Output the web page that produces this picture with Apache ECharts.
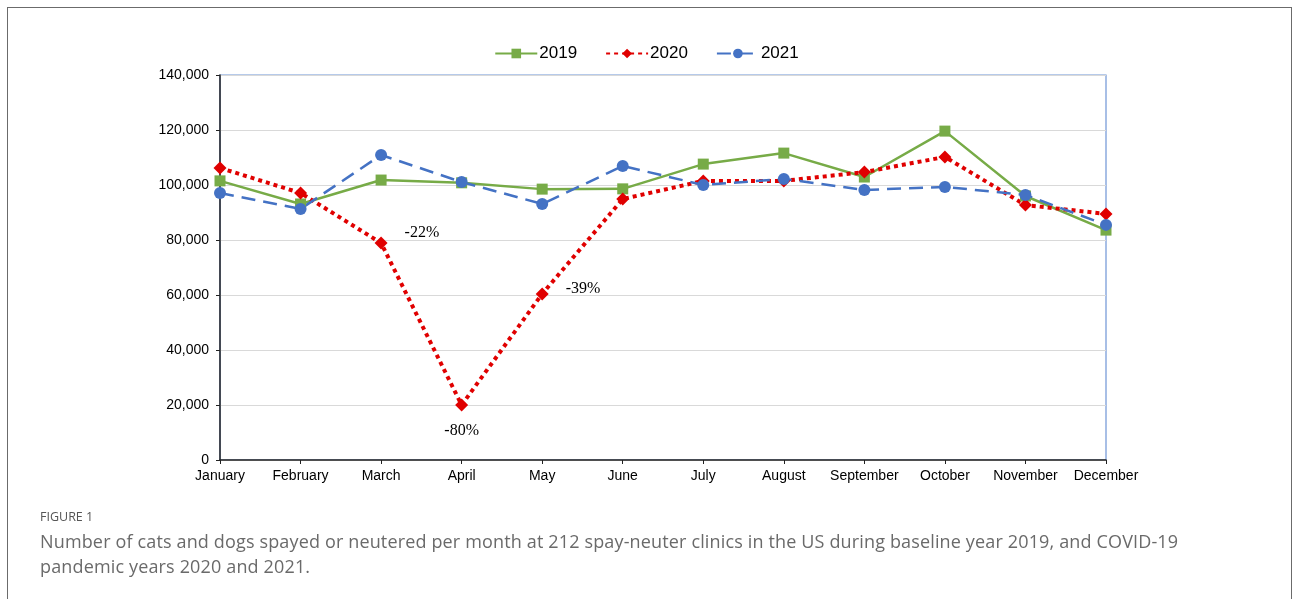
<!DOCTYPE html>
<html>
<head>
<meta charset="utf-8">
<script src="https://cdn.jsdelivr.net/npm/echarts@6/dist/echarts.min.js"></script>
<style>
    html, body { margin: 0; padding: 0; background: #fff; }
    .fig { position: relative; width: 1293px; height: 599px; overflow: hidden; }
    .frame { position: absolute; left: 7px; top: 7px; width: 1285px; height: 620px; border: 1.5px solid #6b6b6b; box-sizing: border-box; }
    #chart { position: absolute; left: 0; top: 0; width: 1293px; height: 599px; }
    .cap-label { position: absolute; left: 40px; top: 508px; font: 12.5px "Open Sans", sans-serif; color: #555; }
    .cap-text { position: absolute; left: 40px; top: 529px; font: 18px/25px "Open Sans", sans-serif; letter-spacing: 0.15px; color: #6a6a6a; }
</style>
</head>
<body>
<div class="fig">
    <div class="frame"></div>
    <div id="chart"></div>
    <div class="cap-label">FIGURE 1</div>
    <div class="cap-text">Number of cats and dogs spayed or neutered per month at 212 spay-neuter clinics in the US during baseline year 2019, and COVID-19<br>pandemic years 2020 and 2021.</div>
</div>
<script>
const months = ["January", "February", "March", "April", "May", "June", "July", "August", "September", "October", "November", "December"];
const values2019 = [101500, 93100, 101800, 100800, 98500, 98600, 107600, 111600, 102900, 119600, 96000, 83600];
const values2020 = [106200, 97100, 78900, 20000, 60400, 94900, 101500, 101500, 104700, 110200, 92700, 89500];
const values2021 = [97100, 91300, 110900, 101100, 93100, 106900, 100000, 102200, 98200, 99300, 96400, 85500];
// 2020 drop labels (percent vs 2019)
const notes2020 = ["", "", "-22%", "-80%", "-39%", "", "", "", "", "", "", ""];
const notePos = { "-22%": ["right", [12, -10]], "-80%": ["bottom", [0, 6]], "-39%": ["right", [12, -5]] };

const data2020 = values2020.map((v, i) => {
    const n = notes2020[i];
    if (!n) return v;
    return {
        value: v,
        label: {
            show: true,
            formatter: n,
            position: notePos[n][0],
            offset: notePos[n][1],
            fontFamily: "Liberation Serif",
            fontSize: 16,
            color: "#000"
        }
    };
});

const chart = echarts.init(document.getElementById("chart"), null, { renderer: "canvas" });
const axisFont = { fontFamily: "Liberation Sans", fontSize: 14, color: "#000" };

chart.setOption({
    animation: false,
    legend: {
        top: 40,
        left: "center",
        itemWidth: 42,
        itemHeight: 12,
        itemGap: 28,
        textStyle: { fontFamily: "Liberation Sans", fontSize: 17, color: "#000", padding: [0, 0, 0, -3] },
        data: ["2019", "2020", "2021"]
    },
    grid: {
        left: 220, right: 187, top: 75, bottom: 139,
        show: true,
        borderColor: "#6f95d6",
        borderWidth: 1.2
    },
    xAxis: {
        type: "category",
        data: months,
        boundaryGap: false,
        axisLine: { lineStyle: { color: "#222", width: 1.5 } },
        axisTick: { show: true, alignWithLabel: true, length: 4, lineStyle: { color: "#222" } },
        axisLabel: Object.assign({ margin: 9, interval: 0 }, axisFont),
        splitLine: { show: false }
    },
    yAxis: {
        type: "value",
        min: 0,
        max: 140000,
        interval: 20000,
        axisLine: { show: true, lineStyle: { color: "#222", width: 1.5 } },
        axisTick: { show: true, length: 4, lineStyle: { color: "#222" } },
        axisLabel: Object.assign({
            margin: 11,
            formatter: v => v.toLocaleString("en-US")
        }, axisFont),
        splitLine: { lineStyle: { color: "#d9d9d9", width: 1 } }
    },
    series: [
        {
            name: "2019",
            type: "line",
            data: values2019,
            symbol: "rect",
            symbolSize: 11,
            itemStyle: { color: "#77ab47" },
            lineStyle: { color: "#77ab47", width: 2.5 }
        },
        {
            name: "2020",
            type: "line",
            data: data2020,
            symbol: "diamond",
            symbolSize: 13,
            itemStyle: { color: "#e00000" },
            lineStyle: { color: "#e00000", width: 4, type: [4, 4] }
        },
        {
            name: "2021",
            type: "line",
            data: values2021,
            symbol: "circle",
            symbolSize: 12,
            itemStyle: { color: "#4472c4" },
            lineStyle: { color: "#4472c4", width: 2.5, type: [14, 8] }
        }
    ]
});
</script>
</body>
</html>
